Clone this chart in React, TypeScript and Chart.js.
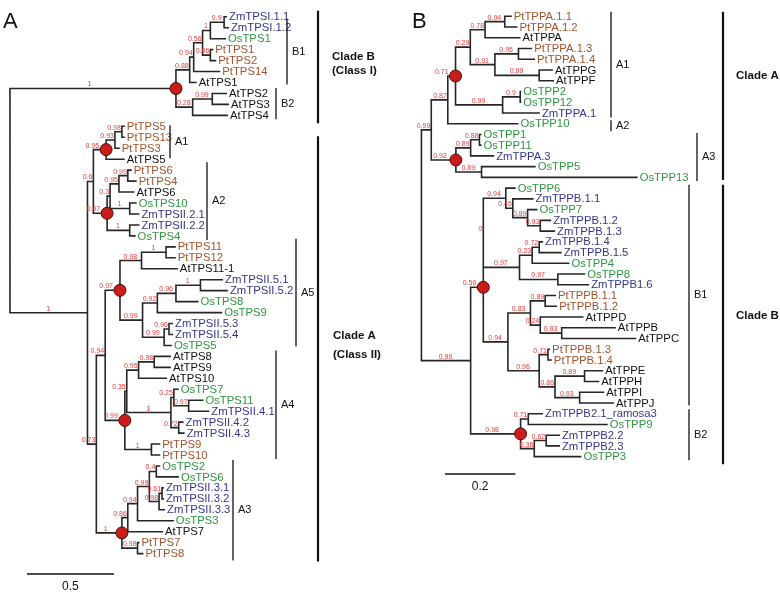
import React, { useEffect, useRef } from "react";
import { Chart, registerables } from "chart.js";

Chart.register(...registerables);

// ===================== DATA =====================
// Newick pieces: branch lengths (substitutions/site), node labels = support, "*" = highlighted node.

// ---- Panel A (TPS) ----
const A_B1 =
  "(((((ZmTPSI.1.1:0.017,ZmTPSI.1.2:0.028)0.9:0.079,OsTPS1:0.090)1:0.045,(PtTPS1:0.017,PtTPS2:0.034)0.96:0.045)0.56:0.051,PtTPS14:0.153)0.94:0.023,AtTPS1:0.040)0.88:0.079";
const A_B2 = "((AtTPS2:0.085,AtTPS3:0.096)0.99:0.113,AtTPS4:0.203)0.28:0.096";
const A_A1 =
  "(((PtTPS5:0.017,PtTPS13:0.017)0.98:0.040,PtTPS3:0.028)0.93:0.051,AtTPS5:0.107)0.95*:0.073";
const A_A2 =
  "((((PtTPS6:0.023,PtTPS4:0.051)0.99:0.051,AtTPS6:0.090)0.95:0.051,(OsTPS10:0.040,ZmTPSII.2.1:0.056)1:0.113)0.3:0.017,(ZmTPSII.2.2:0.056,OsTPS4:0.034)1:0.130)0.97*:0.079";
const A_A5 =
  "(((PtTPS11:0.056,PtTPS12:0.056)1:0.141,AtTPS11-1:0.209)0.98:0.124,((((ZmTPSII.5.1:0.130,ZmTPSII.5.2:0.158)1:0.141,OsTPS8:0.130)0.96:0.107,OsTPS9:0.373)0.92:0.085,((ZmTPSII.5.3:0.023,ZmTPSII.5.4:0.023)0.96:0.028,OsTPS5:0.045)0.99:0.124)0.99:0.130)0.97*:0.085";
const A_A4 =
  "((((AtTPS8:0.096,AtTPS9:0.096)0.98:0.090,AtTPS10:0.164)0.95:0.068,((OsTPS7:0.028,(OsTPS11:0.085,ZmTPSII.4.1:0.119)0.97:0.085)0.25:0.017,(ZmTPSII.4.2:0.028,ZmTPSII.4.3:0.034)0.72:0.045)1:0.254)0.35:0.011,(PtTPS9:0.051,PtTPS10:0.051)1:0.153)0.99*:0.113";
const A_A3 =
  "(((((OsTPS2:0.023,OsTPS6:0.130)0.4:0.040,((ZmTPSII.3.1:0.011,ZmTPSII.3.2:0.011)0.61:0.017,ZmTPSII.3.3:0.034)0.98:0.056)0.99:0.068,OsTPS3:0.209)0.94:0.056,AtTPS7:0.203)0.86:0.034,(PtTPS7:0.011,PtTPS8:0.034)0.98:0.090)1*:0.147";
const A_CLADE_B = `(${A_B1},${A_B2})1*:0.955`;
const A_CLADE_A = `((${A_A1},${A_A2})0.6:0.034,((${A_A5},${A_A4})0.94:0.051,${A_A3})0.73:0.051)1:0.446`;
const TREE_A = `(${A_CLADE_B},${A_CLADE_A});`;
const SCALE_A = 0.5;

const GROUPS_A: [string, string, string][] = [
  ["B1", "ZmTPSI.1.1", "AtTPS1"],
  ["B2", "AtTPS2", "AtTPS4"],
  ["A1", "PtTPS5", "AtTPS5"],
  ["A2", "PtTPS6", "OsTPS4"],
  ["A5", "PtTPS11", "OsTPS5"],
  ["A4", "AtTPS8", "PtTPS10"],
  ["A3", "OsTPS2", "PtTPS8"],
];
const CLADES_A: [string[], string, string][] = [
  [["Clade B", "(Class I)"], "ZmTPSI.1.1", "AtTPS4"],
  [["Clade A", "(Class II)"], "PtTPS5", "PtTPS8"],
];

// ---- Panel B (TPP) ----
const B_A1 =
  "((((PtTPPA.1.1:0.020,PtTPPA.1.2:0.036)0.94:0.056,AtTPPA:0.101)0.78:0.042,((PtTPPA.1.3:0.039,PtTPPA.1.4:0.047)0.95:0.067,(AtTPPG:0.039,AtTPPF:0.042)0.99:0.126)0.91:0.070)0.29:0.042,((OsTPP2:0.003,OsTPP12:0.003)0.9:0.050,ZmTPPA.1:0.106)0.99:0.134)0.71*:0.022";
const B_A3 =
  "(((OsTPP1:0.006,OsTPP11:0.006)0.88:0.025,ZmTPPA.3:0.067)0.89:0.042,(OsTPP5:0.154,OsTPP13:0.444)0.89:0.073)0.92*:0.070";
const B_B1a =
  "(OsTPP6:0.028,(ZmTPPB.1.1:0.059,(OsTPP7:0.028,(ZmTPPB.1.2:0.031,ZmTPPB.1.3:0.042)0.93:0.036)0.89:0.042)0.45:0.020)0.94:0.064";
const B_B1b =
  "(((ZmTPPB.1.4:0.011,ZmTPPB.1.5:0.064)0.72:0.020,OsTPP4:0.106)0.23:0.036,(OsTPP8:0.078,ZmTPPB1.6:0.089)0.97:0.109)0.97:0.103";
const B_B1c =
  "(((PtTPPB.1.1:0.031,PtTPPB.1.2:0.034)0.89:0.042,(AtTPPD:0.123,(AtTPPB:0.154,AtTPPC:0.212)0.93:0.061)0.24:0.028)0.83:0.064,((PtTPPB.1.3:0.006,PtTPPB.1.4:0.011)0.71:0.025,((AtTPPE:0.053,AtTPPH:0.042)0.89:0.084,(AtTPPI:0.070,AtTPPJ:0.098)0.93:0.070)0.86:0.045)0.96:0.089)0.94:0.070";
const B_B2 =
  "((ZmTPPB2.1_ramosa3:0.042,OsTPP9:0.226)0.71:0.022,((ZmTPPB2.2:0.039,ZmTPPB2.3:0.039)0.62:0.034,OsTPP3:0.134)0.36:0.039)0.98*:0.142";
const B_CLADE_A = `((${B_A1},OsTPP10:0.201)0.87:0.047,${B_A3})0.99:0.028`;
const B_CLADE_B = `(((${B_B1a},${B_B1b})0:0,${B_B1c})0.56*:0.036,${B_B2})0.99:0.140`;
const TREE_B = `(${B_CLADE_A},${B_CLADE_B});`;
const SCALE_B = 0.2;

const GROUPS_B: [string, string, string][] = [
  ["A1", "PtTPPA.1.1", "ZmTPPA.1"],
  ["A2", "OsTPP10", "OsTPP10"],
  ["A3", "OsTPP1", "OsTPP13"],
  ["B1", "OsTPP6", "AtTPPJ"],
  ["B2", "ZmTPPB2.1_ramosa3", "OsTPP3"],
];
const CLADES_B: [string[], string, string][] = [
  [["Clade A"], "PtTPPA.1.1", "OsTPP13"],
  [["Clade B"], "OsTPP6", "OsTPP3"],
];

// ===================== LAYOUT / STYLE =====================
const FONT = "'Liberation Sans', Arial, Helvetica, sans-serif";
const W = 780;
const H = 595;
const LINE = "#262626";
const SUPPORT = "#f03a3a";
const NODE_FILL = "#cc1b1b";
const SPECIES: Record<string, string> = { Pt: "#a4542c", Os: "#2e9640", Zm: "#35358f", At: "#111111" };

const PANEL_LAYOUT = {
  A: {
    originPx: 3, pxPerUnit: 177, leaf0: 10, step: 11.22,
    groups: [[287, -2, 2], [276, 5.5, 4], [170, 1, -1], [207, 8, 4], [296, 8, 1], [276, 6, 4], [233, 6, 7]],
    clades: [[318, 6, 8, 332, [57, 71]], [318, -10, 8, 333, [336, 355]]],
    bar: [27, 574, 587], letter: ["A", 3, 28],
  },
  B: {
    originPx: 422, pxPerUnit: 358, leaf0: 9.5, step: 11.0,
    groups: [[611, 4.5, 4.5], [611, 3.5, 7.5], [697, 1.5, 3.5], [689, 3.5, 2.5], [689, 4.5, 3.5]],
    clades: [[723, 4.5, 2.5, 736, [76]], [723, 3.5, 7.5, 736, [316]]],
    bar: [445, 474, 487], letter: ["B", 412, 28],
  },
};

// ===================== TREE HELPERS =====================
type TNode = {
  name: string; label: string; len: number; red: boolean;
  children: TNode[]; parent: TNode | null; x: number; y: number;
};

function parseNewick(src: string): TNode {
  const s = src.replace(/\s+/g, "");
  let i = 0;
  const token = () => {
    const st = i;
    while (i < s.length && ",():;".indexOf(s[i]) < 0) i++;
    return s.slice(st, i);
  };
  const read = (parent: TNode | null): TNode => {
    const n: TNode = { name: "", label: "", len: 0, red: false, children: [], parent, x: 0, y: 0 };
    if (s[i] === "(") {
      i++;
      n.children.push(read(n));
      while (s[i] === ",") { i++; n.children.push(read(n)); }
      i++;
      let lab = token();
      if (lab.endsWith("*")) { n.red = true; lab = lab.slice(0, -1); }
      n.label = lab;
    } else {
      n.name = token();
    }
    if (s[i] === ":") { i++; n.len = parseFloat(token()); }
    return n;
  };
  return read(null);
}

function layoutTree(src: string) {
  const root = parseNewick(src);
  const leaves: TNode[] = [];
  const inner: TNode[] = [];
  const walk = (n: TNode, base: number) => {
    n.x = base + n.len;
    if (!n.children.length) { n.y = leaves.length; leaves.push(n); }
    else {
      n.children.forEach((c) => walk(c, n.x));
      n.y = (n.children[0].y + n.children[n.children.length - 1].y) / 2;
      inner.push(n);
    }
  };
  walk(root, 0);
  const index: Record<string, number> = {};
  leaves.forEach((l) => (index[l.name] = l.y));
  return { root, leaves, inner, index };
}

function branchPoints(inner: TNode[]) {
  const pts: { x: number | null; y: number | null }[] = [];
  for (const n of inner) {
    const f = n.children[0];
    const l = n.children[n.children.length - 1];
    pts.push({ x: f.x, y: f.y }, { x: n.x, y: f.y }, { x: n.x, y: l.y }, { x: l.x, y: l.y }, { x: null, y: null });
    for (const c of n.children.slice(1, -1)) pts.push({ x: n.x, y: c.y }, { x: c.x, y: c.y }, { x: null, y: null });
  }
  return pts;
}

const speciesColor = (name: string) => SPECIES[name.slice(0, 2)] || "#111";

// ===================== COMPONENT =====================
export default function App() {
  const ref = useRef<HTMLCanvasElement>(null);

  useEffect(() => {
    document.body.style.margin = "0";
    const tA = layoutTree(TREE_A);
    const tB = layoutTree(TREE_B);
    const LA = PANEL_LAYOUT.A;
    const LB = PANEL_LAYOUT.B;

    const panels = [
      { t: tA, L: LA, xId: "xA", yId: "yA", groups: GROUPS_A, clades: CLADES_A, scale: SCALE_A },
      { t: tB, L: LB, xId: "xB", yId: "yB", groups: GROUPS_B, clades: CLADES_B, scale: SCALE_B },
    ];

    const textPlugin = {
      id: "treeText",
      afterDatasetsDraw(chart: any) {
        const ctx: CanvasRenderingContext2D = chart.ctx;
        ctx.save();
        for (const p of panels) {
          const xs = chart.scales[p.xId];
          const ys = chart.scales[p.yId];
          const X = (v: number) => xs.getPixelForValue(v);
          const Y = (v: number) => ys.getPixelForValue(v);

          // support values
          ctx.font = `7px ${FONT}`;
          ctx.fillStyle = SUPPORT;
          ctx.textBaseline = "alphabetic";
          for (const n of p.t.inner) {
            if (!n.parent || n.label === "") continue;
            const x0 = X(n.parent.x);
            const x1 = X(n.x) - (n.red ? 7 : 1);
            const w = ctx.measureText(n.label).width;
            const y = Y(n.y) - 2;
            if (x1 - x0 >= w + 2) { ctx.textAlign = "center"; ctx.fillText(n.label, (x0 + x1) / 2, y); }
            else { ctx.textAlign = "right"; ctx.fillText(n.label, x1, y); }
          }

          // leaf names
          ctx.font = `11.3px ${FONT}`;
          ctx.textAlign = "left";
          ctx.textBaseline = "middle";
          for (const l of p.t.leaves) {
            ctx.fillStyle = speciesColor(l.name);
            ctx.fillText(l.name, X(l.x) + 2, Y(l.y) + 0.5);
          }

          // subgroup brackets
          ctx.strokeStyle = "#111";
          ctx.fillStyle = "#111";
          ctx.font = `11px ${FONT}`;
          p.groups.forEach((g, k) => {
            const [bx, t, b] = p.L.groups[k] as number[];
            const y0 = Y(p.t.index[g[1]]) - t;
            const y1 = Y(p.t.index[g[2]]) + b;
            ctx.lineWidth = 1.3;
            ctx.beginPath(); ctx.moveTo(bx, y0); ctx.lineTo(bx, y1); ctx.stroke();
            ctx.textAlign = "left";
            ctx.fillText(g[0], bx + 5, (y0 + y1) / 2);
          });

          // clade brackets
          p.clades.forEach((c, k) => {
            const [bx, t, b, tx, tys] = p.L.clades[k] as any[];
            const y0 = Y(p.t.index[c[1]]) - t;
            const y1 = Y(p.t.index[c[2]]) + b;
            ctx.lineWidth = 2.2;
            ctx.beginPath(); ctx.moveTo(bx, y0); ctx.lineTo(bx, y1); ctx.stroke();
            ctx.font = `bold 11.5px ${FONT}`;
            ctx.textAlign = "left";
            c[0].forEach((txt, j) => ctx.fillText(txt, tx, tys[j]));
          });

          // scale bar
          const [bx0, by, ly] = p.L.bar as number[];
          const len = X(p.scale) - X(0);
          ctx.lineWidth = 1.5;
          ctx.strokeStyle = "#111";
          ctx.beginPath(); ctx.moveTo(bx0, by); ctx.lineTo(bx0 + len, by); ctx.stroke();
          ctx.font = `12px ${FONT}`;
          ctx.textAlign = "center";
          ctx.fillText(String(p.scale), bx0 + len / 2, ly);

          // panel letter
          const [letter, lx, lyy] = p.L.letter as any[];
          ctx.font = `22px ${FONT}`;
          ctx.textAlign = "left";
          ctx.textBaseline = "alphabetic";
          ctx.fillText(letter, lx, lyy);
        }
        ctx.restore();
      },
    };

    const scaleX = (L: any) => ({
      type: "linear", axis: "x", display: false, bounds: "data",
      min: -L.originPx / L.pxPerUnit, max: (W - L.originPx) / L.pxPerUnit,
    });
    const scaleY = (L: any) => ({
      type: "linear", axis: "y", display: false, bounds: "data", reverse: true,
      min: -L.leaf0 / L.step, max: (H - L.leaf0) / L.step,
    });

    const redPts = (t: any) => t.inner.filter((n: TNode) => n.red).map((n: TNode) => ({ x: n.x, y: n.y }));
    const lineDs = (t: any, xId: string, yId: string) => ({
      data: branchPoints(t.inner), xAxisID: xId, yAxisID: yId, showLine: true, spanGaps: false,
      pointRadius: 0, borderColor: LINE, borderWidth: 1.6, borderJoinStyle: "miter", order: 2,
    });
    const nodeDs = (t: any, xId: string, yId: string) => ({
      data: redPts(t), xAxisID: xId, yAxisID: yId, showLine: false,
      pointRadius: 6, backgroundColor: NODE_FILL, borderColor: "#4a0d0d", borderWidth: 1, order: 0,
    });

    const chart = new Chart(ref.current as HTMLCanvasElement, {
      type: "scatter",
      data: {
        datasets: [
          nodeDs(tA, "xA", "yA"), nodeDs(tB, "xB", "yB"),
          lineDs(tA, "xA", "yA"), lineDs(tB, "xB", "yB"),
        ] as any,
      },
      options: {
        responsive: false,
        animation: false,
        devicePixelRatio: 1,
        events: [],
        layout: { padding: 0 },
        plugins: { legend: { display: false }, tooltip: { enabled: false }, title: { display: false } },
        scales: {
          xA: scaleX(LA), yA: scaleY(LA), xB: scaleX(LB), yB: scaleY(LB),
        } as any,
      },
      plugins: [textPlugin],
    } as any);
    return () => chart.destroy();
  }, []);

  return (
    <div style={{ width: W, height: H, background: "#fff" }}>
      <canvas ref={ref} width={W} height={H} style={{ display: "block" }} />
    </div>
  );
}
